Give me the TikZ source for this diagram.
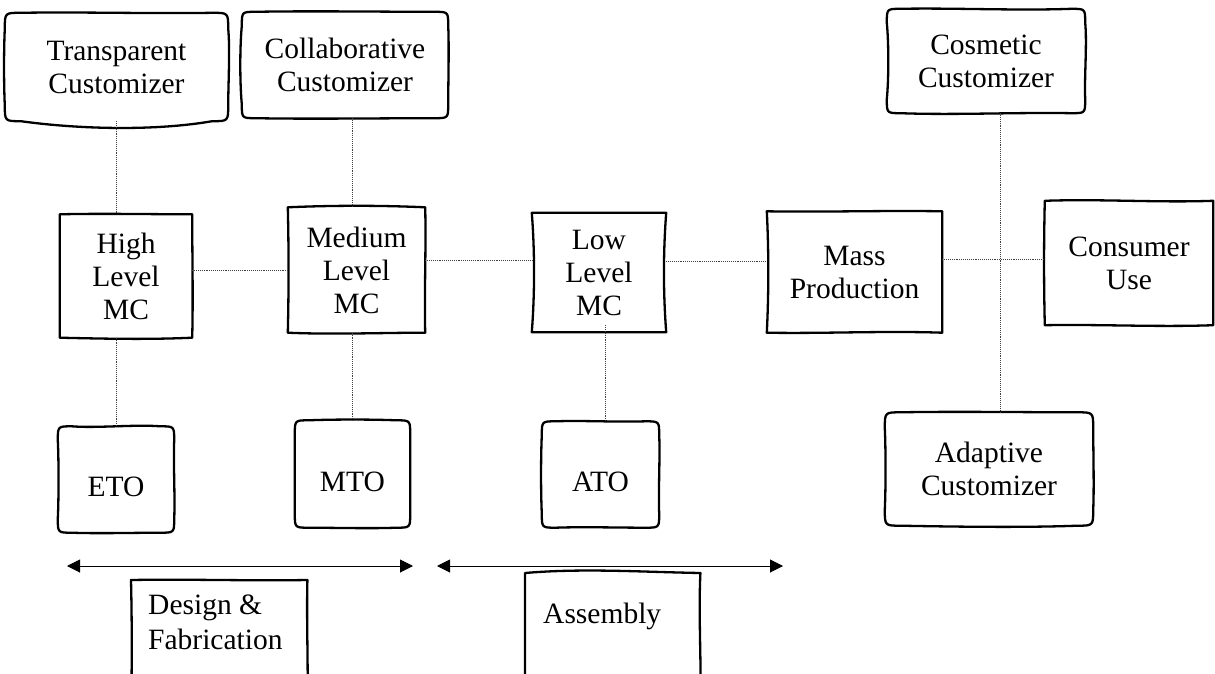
\documentclass[tikz,border=0pt]{standalone}
\usepackage{fontspec}
\setmainfont{Liberation Serif}
\usetikzlibrary{calc,arrows.meta}

% Hand-drawn outline around a node.
% #1 node, #2 corner radius, #3 #4 top bow, #5 #6 right bow, #7 #8 bottom bow, #9 left bow (outward positive)
\newcommand\handbox[9]{%
  \draw[outline] ([xshift=#2pt]#1.north west)
    .. controls ($(#1.north west)!0.33!(#1.north east)+(0pt,{(#3)*1pt})$) and ($(#1.north west)!0.67!(#1.north east)+(0pt,{(#4)*1pt})$) .. ([xshift=-#2pt]#1.north east)
    .. controls (#1.north east) .. ([yshift=-#2pt]#1.north east)
    .. controls ($(#1.north east)!0.33!(#1.south east)+({(#5)*1pt},0pt)$) and ($(#1.north east)!0.67!(#1.south east)+({(#6)*1pt},0pt)$) .. ([yshift=#2pt]#1.south east)
    .. controls (#1.south east) .. ([xshift=-#2pt]#1.south east)
    .. controls ($(#1.south east)!0.33!(#1.south west)+(0pt,{-(#7)*1pt})$) and ($(#1.south east)!0.67!(#1.south west)+(0pt,{-(#8)*1pt})$) .. ([xshift=#2pt]#1.south west)
    .. controls (#1.south west) .. ([yshift=#2pt]#1.south west)
    .. controls ($(#1.south west)!0.33!(#1.north west)+({-(#9)*1pt},0pt)$) and ($(#1.south west)!0.67!(#1.north west)+({-(#9)*1pt},0pt)$) .. ([yshift=-#2pt]#1.north west)
    .. controls (#1.north west) .. cycle;}

\tikzset{
  box/.style={draw=none, inner sep=0pt, align=center,
    font=\fontsize{29.5pt}{33pt}\selectfont},
  boxtext/.style={inner sep=0pt, align=left, anchor=north west,
    font=\fontsize{29.5pt}{35pt}\selectfont},
  outline/.style={draw=black, line width=2.3pt, line join=round},
  link/.style={draw=black!75, line width=0.9pt, densely dotted},
  span/.style={draw=black, line width=1pt,
    {Triangle[length=13pt,width=13pt]}-{Triangle[length=13pt,width=13pt]}},
}

\begin{document}
\begin{tikzpicture}[x=1pt,y=-1pt]
\path[use as bounding box, clip] (0,0) rectangle (1215,674);

% customizer types (top and lower right)
\node[box, minimum width=223pt, minimum height=108pt] (trans) at (116.5,67) {Transparent\\Customizer};
\node[box, minimum width=206pt, minimum height=106pt] (collab) at (345,65) {Collaborative\\Customizer};
\node[box, minimum width=198pt, minimum height=104pt] (cosm) at (986,61) {Cosmetic\\Customizer};
\node[box, minimum width=208pt, minimum height=113pt] (adapt) at (989,469) {Adaptive\\Customizer};

% customization levels along the middle row
\node[box, minimum width=132pt, minimum height=123pt] (high) at (126,276) {High\\Level\\MC};
\node[box, minimum width=137pt, minimum height=125pt] (medium) at (356.5,270) {Medium\\Level\\MC};
\node[box, minimum width=134pt, minimum height=119pt] (low) at (599,272.5) {Low\\Level\\MC};
\node[box, minimum width=175pt, minimum height=121pt] (mass) at (854.5,272) {Mass\\Production};
\node[box, minimum width=168pt, minimum height=124pt] (cons) at (1129,263) {Consumer\\Use};

% order strategies
\node[box, minimum width=116pt, minimum height=106pt] (eto) at (116,479.5) {\raisebox{-7pt}[20pt][0pt]{ETO}};
\node[box, minimum width=115pt, minimum height=107pt] (mto) at (352.5,474) {\raisebox{-7pt}[20pt][0pt]{MTO}};
\node[box, minimum width=117pt, minimum height=106pt] (ato) at (600.5,474.5) {\raisebox{-7pt}[20pt][0pt]{ATO}};

% process phases at the bottom
\node[box, anchor=north west, minimum width=176pt, minimum height=130pt] (design) at (131,580) {};
\node[boxtext] (designtext) at ([shift={(17pt,-15pt)}]design.north west) {Design \&\\Fabrication};
\node[box, anchor=north west, minimum width=175pt, minimum height=130pt] (assembly) at (525,573) {};
\node[boxtext] (assemblytext) at ([shift={(18pt,-30pt)}]assembly.north west) {Assembly};

% outlines
\handbox{trans}{16}{1}{-1}{2}{0}{10}{8}{1}
\handbox{collab}{14}{1}{0}{1}{0}{0}{1}{2}
\handbox{cosm}{14}{1}{-2}{2}{-1}{-1}{2}{-2}
\handbox{adapt}{16}{1}{0}{0}{1}{2}{1}{-1}
\handbox{high}{0}{1}{0}{0}{1}{2}{1}{0}
\handbox{medium}{0}{2}{2}{1}{-1}{0}{2}{-1}
\handbox{low}{0}{0}{0}{-3}{-3}{0}{0}{-3}
\handbox{mass}{0}{-1}{1}{0}{0}{-2}{1}{-2}
\handbox{cons}{0}{2}{-2}{0}{0}{2}{-1}{1}
\handbox{eto}{14}{-2}{2}{-1}{1}{0}{1}{-1}
\handbox{mto}{14}{1}{1}{0}{0}{1}{0}{0}
\handbox{ato}{14}{1}{-1}{1}{-1}{0}{-1}{1}
\handbox{design}{0}{1}{-1}{-1}{1}{0}{0}{-1}
\handbox{assembly}{0}{5}{1}{-2}{1}{0}{0}{0}

% dotted links
\draw[link] (trans.south -| eto.north) -- (high.north -| eto.north);
\draw[link] (high.south -| eto.north) -- (eto.north);
\draw[link] (collab.south -| mto.north) -- (medium.north -| mto.north);
\draw[link] (medium.south -| mto.north) -- (mto.north);
\draw[link] ([xshift=6pt,yshift=7pt]low.south) -- ([xshift=6pt]low.south |- ato.north);
\draw[link] ([xshift=14pt]cosm.south) -- ([xshift=14pt]cosm.south |- adapt.north);
\draw[link] (high.east |- medium.west) -- (medium.west);
\draw[link] ([yshift=10pt]medium.east) -- ([yshift=10pt]medium.east -| low.west);
\draw[link] ([yshift=11pt]low.east) -- ([yshift=11pt]low.east -| mass.west);
\draw[link] ([yshift=4pt]cons.west -| mass.east) -- ([yshift=4pt]cons.west);

% phase spans
\coordinate (s1l) at (67,566);
\coordinate (s1r) at (413,566);
\coordinate (s2l) at (437,566);
\coordinate (s2r) at (783,566);
\draw[span] (s1l) -- (s1r);
\draw[span] (s2l) -- (s2r);
\end{tikzpicture}
\end{document}
